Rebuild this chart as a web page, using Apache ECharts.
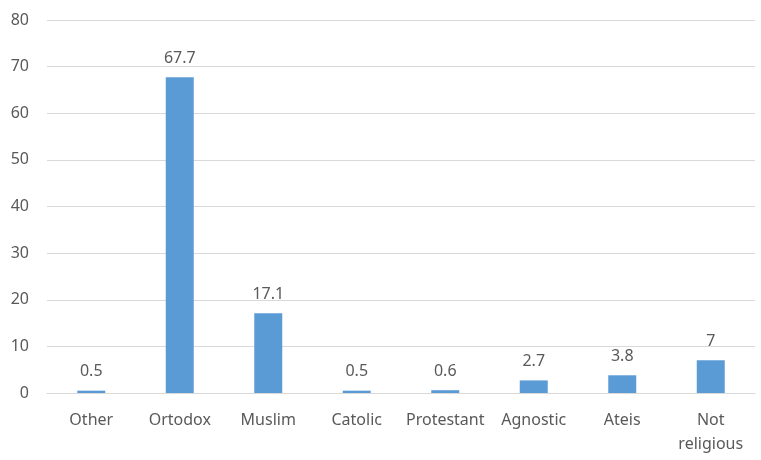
<!DOCTYPE html>
<html>
<head>
<meta charset="utf-8">
<script src="https://cdn.jsdelivr.net/npm/echarts@6/dist/echarts.min.js"></script>
<style>
html,body{margin:0;padding:0;background:#fff;}
#chart{width:761px;height:460px;}
</style>
</head>
<body>
<div id="chart"></div>
<script>
var categories = ['Other', 'Ortodox', 'Muslim', 'Catolic', 'Protestant', 'Agnostic', 'Ateis', 'Not\nreligious'];
var values = [0.5, 67.7, 17.1, 0.5, 0.6, 2.7, 3.8, 7];

var myChart = echarts.init(document.getElementById('chart'));
var textColor = '#595959';
var option = {
    animation: false,
    grid: {left: 47, right: 6, top: 20, bottom: 67},
    xAxis: {
        type: 'category',
        data: categories,
        axisLine: {lineStyle: {color: '#d9d9d9', width: 1}},
        axisTick: {show: false},
        axisLabel: {color: textColor, fontSize: 16, fontFamily: 'Noto Sans', margin: 15, interval: 0, lineHeight: 24}
    },
    yAxis: {
        type: 'value',
        min: 0,
        max: 80,
        interval: 10,
        axisLine: {show: false},
        axisTick: {show: false},
        splitLine: {lineStyle: {color: '#d9d9d9', width: 1}},
        axisLabel: {color: textColor, fontSize: 16, fontFamily: 'Noto Sans', margin: 18}
    },
    series: [{
        type: 'bar',
        data: values,
        barWidth: 28,
        itemStyle: {color: '#5b9bd5'},
        label: {
            show: true,
            position: 'top',
            distance: 11,
            color: textColor,
            fontSize: 16,
            fontFamily: 'Noto Sans'
        }
    }]
};
myChart.setOption(option);
</script>
</body>
</html>
